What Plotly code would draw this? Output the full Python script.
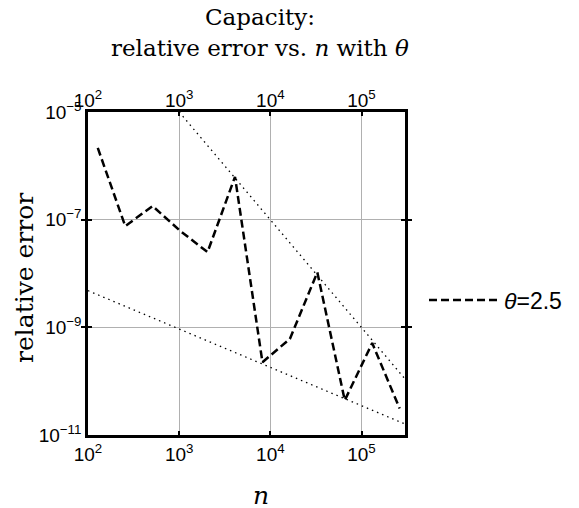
import plotly.graph_objects as go

# data
n_vals = [128, 256, 512, 1024, 2048, 4096, 8192, 16384, 32768, 65536, 131072, 262144]
err_theta25 = [2.15e-6, 7.6e-8, 1.79e-7, 6.2e-8, 2.5e-8, 6.25e-7, 2.25e-10,
               6.1e-10, 1.05e-8, 4.4e-11, 5.1e-10, 3.1e-11]
ref1_n = [1000, 300000]
ref1_err = [1.0e-5, 1.1e-10]
ref2_n = [100, 300000]
ref2_err = [4.8e-9, 1.6e-11]

x_tickvals = [1e2, 1e3, 1e4, 1e5]
x_ticktext = ["10<sup>2</sup>", "10<sup>3</sup>", "10<sup>4</sup>", "10<sup>5</sup>"]
y_tickvals = [1e-11, 1e-9, 1e-7, 1e-5]
y_ticktext = ["10<sup>\u221211</sup>", "10<sup>\u22129</sup>", "10<sup>\u22127</sup>", "10<sup>\u22125</sup>"]

serif = "DejaVu Serif, Liberation Serif, serif"
sans = "Liberation Sans, Arial, sans-serif"

fig = go.Figure()
fig.add_trace(go.Scatter(x=ref1_n, y=ref1_err, mode="lines", showlegend=False,
                         line=dict(color="black", width=1.3, dash="1.5px,4px")))
fig.add_trace(go.Scatter(x=ref2_n, y=ref2_err, mode="lines", showlegend=False,
                         line=dict(color="black", width=1.3, dash="1.5px,4px")))
fig.add_trace(go.Scatter(x=n_vals, y=err_theta25, mode="lines", name="<i>θ</i>=2.5",
                         line=dict(color="black", width=2.5, dash="8px,4px")))
# invisible trace for top axis
fig.add_trace(go.Scatter(x=n_vals, y=err_theta25, xaxis="x2", mode="lines",
                         showlegend=False, hoverinfo="skip",
                         line=dict(color="rgba(0,0,0,0)")))

tickfont = dict(family=sans, size=19, color="black")
xrange = [2, 5.4771]

fig.update_layout(
    width=571, height=500,
    margin=dict(l=80, r=165, t=104, b=73),
    paper_bgcolor="white", plot_bgcolor="white",
    xaxis=dict(type="log", range=xrange, tickvals=x_tickvals, ticktext=x_ticktext,
               showgrid=True, gridcolor="#b0b0b0", gridwidth=1,
               showline=True, linecolor="black", linewidth=2.5, mirror=True,
               ticks="inside", ticklen=4, tickcolor="black", tickwidth=2,
               tickfont=tickfont, zeroline=False),
    xaxis2=dict(type="log", range=xrange, overlaying="x", side="top",
                tickvals=x_tickvals, ticktext=x_ticktext, showgrid=False,
                ticks="inside", ticklen=4, tickcolor="black", tickwidth=2,
                tickfont=tickfont, showline=False, zeroline=False),
    yaxis=dict(type="log", range=[-11, -5], tickvals=y_tickvals, ticktext=y_ticktext,
               showgrid=True, gridcolor="#b0b0b0", gridwidth=1,
               showline=True, linecolor="black", linewidth=2.5, mirror="allticks",
               ticks="inside", ticklen=4, tickcolor="black", tickwidth=2,
               tickfont=tickfont, zeroline=False),
    legend=dict(x=1.06, y=0.418, xanchor="left", yanchor="middle",
                font=dict(family=sans, size=23, color="black"),
                bgcolor="rgba(0,0,0,0)", itemwidth=70),
    annotations=[
        dict(text="Capacity:", xref="paper", yref="paper", x=0.5435, y=1.294,
             xanchor="center", yanchor="middle", showarrow=False,
             font=dict(family=serif, size=23, color="black")),
        dict(text="relative error vs. <i>n</i> with <i>θ</i>", xref="paper", yref="paper",
             x=0.5435, y=1.198, xanchor="center", yanchor="middle", showarrow=False,
             font=dict(family=serif, size=23, color="black")),
        dict(text="relative error", xref="paper", yref="paper", x=-0.2019, y=0.486,
             xanchor="center", yanchor="middle", textangle=-90, showarrow=False,
             font=dict(family=serif, size=25, color="black")),
        dict(text="<i>n</i>", xref="paper", yref="paper", x=0.5466, y=-0.186,
             xanchor="center", yanchor="middle", showarrow=False,
             font=dict(family=serif, size=25, color="black")),
    ],
)

fig.write_html("out.html")
